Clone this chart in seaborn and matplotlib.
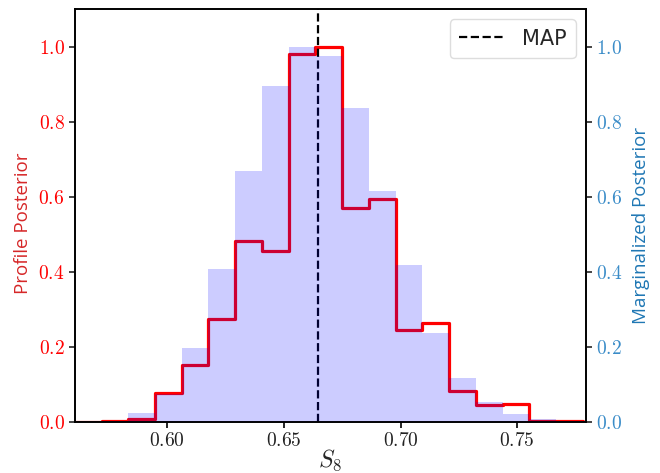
import numpy as np
import pandas as pd
import matplotlib
matplotlib.use("Agg")
import matplotlib.pyplot as plt
import seaborn as sns
from matplotlib.ticker import FuncFormatter

# ---- data ----
s8_edges = [0.5605, 0.5719, 0.5834, 0.5948, 0.6063, 0.6177, 0.6292, 0.6406, 0.6521,
            0.6635, 0.6750, 0.6864, 0.6979, 0.7093, 0.7208, 0.7322, 0.7437, 0.7551,
            0.7666, 0.7780]
profile_post = [0.0, 0.002, 0.007, 0.076, 0.151, 0.273, 0.482, 0.455, 0.980, 1.0,
                0.569, 0.593, 0.245, 0.262, 0.083, 0.045, 0.046, 0.003, 0.001]
marginal_post = [0.0, 0.001, 0.022, 0.075, 0.197, 0.406, 0.669, 0.895, 1.0, 0.975,
                 0.836, 0.615, 0.418, 0.236, 0.116, 0.052, 0.021, 0.006, 0.001]
map_value = 0.6645
x_ticks = [0.60, 0.65, 0.70, 0.75]
y_ticks = [0.0, 0.2, 0.4, 0.6, 0.8, 1.0]

edges = list(s8_edges)
centers = [0.5 * (a + b) for a, b in zip(edges[:-1], edges[1:])]
df = pd.DataFrame({"S8": centers, "profile": profile_post, "marginal": marginal_post})

sns.set_style("ticks")
plt.rcParams["mathtext.fontset"] = "cm"
plt.rcParams["font.family"] = ["Open Sans", "DejaVu Sans"]

fig = plt.figure(figsize=(6.6, 4.73), dpi=100)
ax = fig.add_axes([0.1136, 0.1085, 0.7744, 0.8725])
ax2 = ax.twinx()

sns.histplot(data=df, x="S8", weights="profile", bins=edges, element="step",
             fill=False, color="red", linewidth=2.3, ax=ax)
ax.axvline(map_value, color="black", linestyle="--", linewidth=1.6, label="MAP")

sns.histplot(data=df, x="S8", weights="marginal", bins=edges, element="bars",
             fill=True, color="blue", alpha=0.2, linewidth=0, edgecolor="none", ax=ax2)

for a in (ax, ax2):
    a.set_xlim(0.5605, 0.7795)
    a.set_ylim(0, 1.1)
    a.set_yticks(y_ticks)
    a.yaxis.set_major_formatter(FuncFormatter(lambda v, p: f"${v:.1f}$"))
    for s in a.spines.values():
        s.set_visible(True)
        s.set_color("black")
        s.set_linewidth(1.2)

ax.set_xticks(x_ticks)
ax.xaxis.set_major_formatter(FuncFormatter(lambda v, p: f"${v:.2f}$"))
ax.tick_params(axis="x", labelsize=14, colors="black", labelcolor="#222222", width=1.2, length=4)
ax.tick_params(axis="y", labelsize=14, labelcolor="red", width=1.2, length=4)
ax2.tick_params(axis="y", labelsize=14, labelcolor="#3a8cc8", width=1.2, length=4)

ax.set_xlabel(r"$S_8$", fontsize=17)
ax.xaxis.set_label_coords(0.5, -0.062)
ax.set_ylabel("Profile Posterior", fontsize=13.5, color="#d62728")
ax.yaxis.set_label_coords(-0.084, 0.48)
ax2.set_ylabel("Marginalized Posterior", fontsize=13.5, color="#1f77b4")
ax2.yaxis.set_label_coords(1.09, 0.475)

# legend on the top axes so it stays above the fill
handles, labels = ax.get_legend_handles_labels()
ax2.legend(handles, labels, loc="upper right", handlelength=2.2,
           borderpad=0.45, framealpha=1, edgecolor="#dddddd",
           prop={"family": "DejaVu Sans", "size": 15})

fig.savefig("out.png", dpi=100)
